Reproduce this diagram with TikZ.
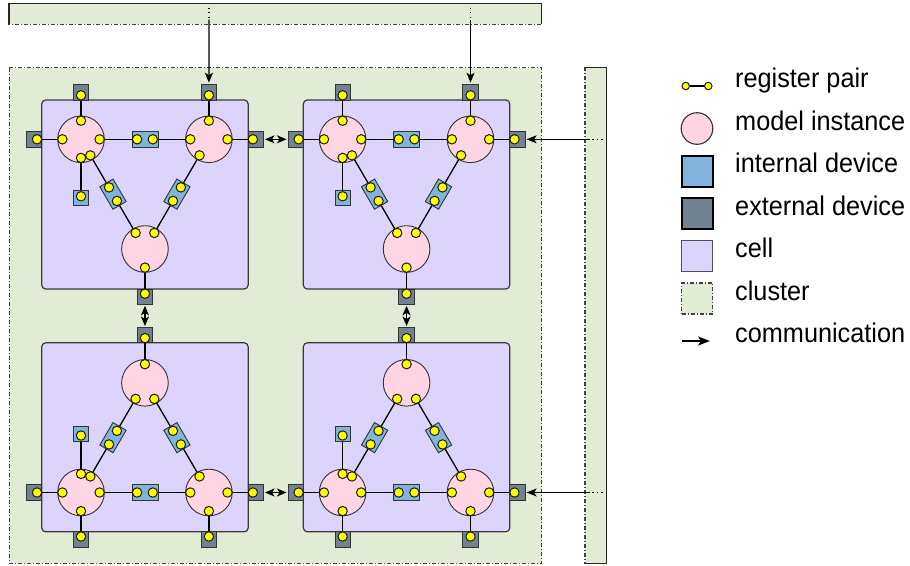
\documentclass[tikz,border=0pt]{standalone}
\usepackage{fontspec}
\setmainfont{Liberation Sans}[FakeStretch=0.936]
\usetikzlibrary{calc,arrows.meta}
\pgfdeclarelayer{clusterlayer}
\pgfdeclarelayer{celllayer}
\pgfdeclarelayer{linelayer}
\pgfsetlayers{clusterlayer,celllayer,linelayer,main}
\definecolor{clusterc}{HTML}{E2EBD5}
\definecolor{clusterb}{HTML}{404040}
\definecolor{cellc}{HTML}{DCD4FD}
\definecolor{cellb}{HTML}{3A3A3A}
\definecolor{instc}{HTML}{FFD5E3}
\definecolor{instb}{HTML}{333333}
\definecolor{dotc}{HTML}{FFFF00}
\definecolor{dotb}{HTML}{1A1A1A}
\definecolor{intc}{HTML}{82B3DA}
\definecolor{extc}{HTML}{738290}
\definecolor{devb}{HTML}{333333}
\definecolor{legcellb}{HTML}{505060}
\tikzset{
 clusterbox/.style={fill=clusterc, draw=clusterb, line width=1.2pt, dash pattern=on 4pt off 2pt on 1pt off 2pt},
 bandedge/.style={draw=black!85, line width=1.1pt},
 cellbox/.style={rectangle, fill=cellc, draw=cellb, line width=1.2pt, rounded corners=4pt, minimum width=206.5pt, minimum height=189pt, inner sep=0pt, outer sep=0pt},
 inst/.style={circle, fill=instc, draw=instb, line width=0.9pt, minimum size=46.6pt, inner sep=0pt, outer sep=0pt},
 regdot/.style={circle, fill=dotc, draw=dotb, line width=1pt, minimum size=9.4pt, inner sep=0pt, outer sep=0pt},
 extdev/.style={rectangle, fill=extc, draw=devb, line width=0.9pt, minimum size=15.3pt, inner sep=0pt, outer sep=0pt},
 intdev/.style={rectangle, fill=intc, draw=devb, line width=0.9pt, minimum size=15.3pt, inner sep=0pt, outer sep=0pt},
 intpair/.style={intdev, minimum width=26pt, minimum height=15.3pt},
 link/.style={draw=black, line width=1.3pt},
 comm/.style={draw=black, line width=1.3pt, -{Stealth[length=10pt,width=8pt,inset=2.5pt]}},
 bigcomm/.style={draw=black, line width=1.5pt, -{Stealth[length=12pt,width=9pt,inset=3pt]}},
 bicomm/.style={draw=black, line width=1.3pt, {Stealth[length=9.5pt,width=8pt,inset=2.5pt]}-{Stealth[length=9.5pt,width=8pt,inset=2.5pt]}},
 bandlink/.style={draw=black, line width=1.3pt, dash pattern=on 1.3pt off 3.2pt},
 legtext/.style={anchor=mid west, font=\fontsize{27}{30}\selectfont, inner sep=0pt},
}
\newcommand\mkcell[4]{%
 \begin{pgfonlayer}{celllayer}
  \node[cellbox] (#1cell) at ({#2+103.25},{#3+(#4)*94.5}) {};
 \end{pgfonlayer}
 \node[inst] (#1A) at ({#2+39.3},{#3+(#4)*39.3}) {};
 \node[inst] (#1B) at ({#2+167.2},{#3+(#4)*39.3}) {};
 \node[inst] (#1C) at ({#2+103.25},{#3+(#4)*149}) {};
 \coordinate (#1pAt) at ($(#1A.center)+(0,{-(#4)*18.6})$);
 \coordinate (#1pAl) at ($(#1A.center)+(-18.6,0)$);
 \coordinate (#1pAr) at ($(#1A.center)+(18.6,0)$);
 \coordinate (#1pAb) at ($(#1A.center)+(0,{(#4)*18.6})$);
 \coordinate (#1pAC) at ($(#1A.center)!18.6pt!(#1C.center)$);
 \coordinate (#1pBt) at ($(#1B.center)+(0,{-(#4)*18.6})$);
 \coordinate (#1pBl) at ($(#1B.center)+(-18.6,0)$);
 \coordinate (#1pBr) at ($(#1B.center)+(18.6,0)$);
 \coordinate (#1pBC) at ($(#1B.center)!18.6pt!(#1C.center)$);
 \coordinate (#1pCA) at ($(#1C.center)!18.6pt!(#1A.center)$);
 \coordinate (#1pCB) at ($(#1C.center)!18.6pt!(#1B.center)$);
 \coordinate (#1pCb) at ($(#1C.center)+(0,{(#4)*18.6})$);
 \node[extdev] (#1xAt) at ({#2+39.3},{#3-(#4)*7.65}) {};
 \node[extdev] (#1xBt) at ({#2+167.2},{#3-(#4)*7.65}) {};
 \node[extdev] (#1xAl) at ({#2-7.65},{#3+(#4)*39.3}) {};
 \node[extdev] (#1xBr) at ({#2+214.15},{#3+(#4)*39.3}) {};
 \node[extdev] (#1xCb) at ({#2+103.25},{#3+(#4)*196.65}) {};
 \node[intdev] (#1iA) at ({#2+39.3},{#3+(#4)*97.8}) {};
 \node[intpair] (#1iH) at ({#2+103.25},{#3+(#4)*39.3}) {};
 \path (#1pAC) -- node[intpair,sloped] (#1iAC) {} (#1pCA);
 \path (#1pBC) -- node[intpair,sloped] (#1iBC) {} (#1pCB);
 \foreach \p in {pAt,pAl,pAr,pAb,pAC,pBt,pBl,pBr,pBC,pCA,pCB,pCb} {\node[regdot] (#1d\p) at (#1\p) {};}
 \node[regdot] (#1dxAt) at ({#2+39.3},{#3-(#4)*4.7}) {};
 \node[regdot] (#1dxBt) at ({#2+167.2},{#3-(#4)*4.7}) {};
 \node[regdot] (#1dxAl) at ({#2-4.7},{#3+(#4)*39.3}) {};
 \node[regdot] (#1dxBr) at ({#2+211.2},{#3+(#4)*39.3}) {};
 \node[regdot] (#1dxCb) at ({#2+103.25},{#3+(#4)*193.7}) {};
 \node[regdot] (#1diA) at ({#2+39.3},{#3+(#4)*96.3}) {};
 \node[regdot] (#1diH1) at ($(#1iH.center)+(-7.85,0)$) {};
 \node[regdot] (#1diH2) at ($(#1iH.center)+(7.85,0)$) {};
 \node[regdot] (#1diAC1) at ($(#1iAC.center)!7.85pt!(#1pAC)$) {};
 \node[regdot] (#1diAC2) at ($(#1iAC.center)!7.85pt!(#1pCA)$) {};
 \node[regdot] (#1diBC1) at ($(#1iBC.center)!7.85pt!(#1pBC)$) {};
 \node[regdot] (#1diBC2) at ($(#1iBC.center)!7.85pt!(#1pCB)$) {};
 \begin{pgfonlayer}{linelayer}
  \draw[link] (#1dpAt.center) -- (#1dxAt.center);
  \draw[link] (#1dpAl.center) -- (#1dxAl.center);
  \draw[link] (#1dpAr.center) -- (#1diH1.center);
  \draw[link] (#1diH2.center) -- (#1dpBl.center);
  \draw[link] (#1dpAb.center) -- (#1diA.center);
  \draw[link] (#1dpAC.center) -- (#1dpCA.center);
  \draw[link] (#1dpBt.center) -- (#1dxBt.center);
  \draw[link] (#1dpBr.center) -- (#1dxBr.center);
  \draw[link] (#1dpBC.center) -- (#1dpCB.center);
  \draw[link] (#1dpCb.center) -- (#1dxCb.center);
 \end{pgfonlayer}
}
\begin{document}
\begin{tikzpicture}[x=1pt,y=-1pt]
\useasboundingbox (0,0) rectangle (910,565);
% clusters
\begin{pgfonlayer}{clusterlayer}
 \draw[clusterbox] (9,3.3) rectangle (541.5,24.3);
 \draw[bandedge] (9,24.3) -- (9,3.3) -- (541.5,3.3) -- (541.5,24.3);
 \draw[clusterbox] (9.3,67.8) rectangle (541.7,563.3);
 \draw[clusterbox] (585,67.3) rectangle (606.7,563.3);
 \draw[bandedge] (585,67.3) -- (606.7,67.3) -- (606.7,563.3) -- (585,563.3);
\end{pgfonlayer}
% cells
\mkcell{TL}{41.7}{100}{1}
\mkcell{TR}{303.3}{100}{1}
\mkcell{BL}{41.7}{531.8}{-1}
\mkcell{BR}{303.3}{531.8}{-1}
% communication between cells
\draw[bicomm, shorten <=1.5pt, shorten >=1.5pt] (TLxBr) -- (TRxAl);
\draw[bicomm, shorten <=1.5pt, shorten >=1.5pt] (BLxBr) -- (BRxAl);
\draw[bicomm, shorten <=1.5pt, shorten >=1.5pt] (TLxCb) -- (BLxCb);
\draw[bicomm, shorten <=1.5pt, shorten >=1.5pt] (TRxCb) -- (BRxCb);
% communication from neighbouring clusters
\coordinate (tb1a) at (209,7.5);
\coordinate (tb1b) at (209,19.5);
\coordinate (tb2a) at (470.5,7.5);
\coordinate (tb2b) at (470.5,19.5);
\coordinate (rb1a) at (602.5,139.3);
\coordinate (rb1b) at (590,139.3);
\coordinate (rb2a) at (602.5,492.5);
\coordinate (rb2b) at (590,492.5);
\draw[bandlink] (tb1a) -- (tb1b);
\draw[bandlink] (tb2a) -- (tb2b);
\draw[bandlink] (rb1a) -- (rb1b);
\draw[bandlink] (rb2a) -- (rb2b);
\draw[comm, shorten >=2pt] (tb1b) -- (TLxBt);
\draw[comm, shorten >=2pt] (tb2b) -- (TRxBt);
\draw[comm, shorten >=1.5pt] (rb1b) -- (TRxBr);
\draw[comm, shorten >=1.5pt] (rb2b) -- (BRxBr);
% legend
\node[regdot, minimum size=7.5pt] (lgd1) at (685.7,86) {};
\node[regdot, minimum size=7.5pt] (lgd2) at (708.3,86) {};
\begin{pgfonlayer}{linelayer}
 \draw[link] (lgd1.center) -- (lgd2.center);
\end{pgfonlayer}
\node[legtext] (lgt1) at (735,85) {register pair};
\node[inst, minimum size=31.6pt, line width=1.1pt] (lgi) at (697,128.5) {};
\node[legtext] (lgt2) at (735,127.5) {model instance};
\node[intdev, minimum size=31pt, draw=black, line width=2pt] (lgid) at (697,171) {};
\node[legtext] (lgt3) at (735,170) {internal device};
\node[extdev, minimum size=31pt, draw=black, line width=2pt] (lgxd) at (697,213.5) {};
\node[legtext] (lgt4) at (735,212.5) {external device};
\node[rectangle, fill=cellc, draw=legcellb, line width=1.2pt, minimum size=31pt] (lgc) at (697,256) {};
\node[legtext] (lgt5) at (735,255) {cell};
\node[clusterbox, rectangle, minimum size=31pt] (lgcl) at (697,298.5) {};
\node[legtext] (lgt6) at (735,297.5) {cluster};
\coordinate (lga1) at (682,341);
\coordinate (lga2) at (710,341);
\draw[bigcomm] (lga1) -- (lga2);
\node[legtext] (lgt7) at (735,340) {communication};
\end{tikzpicture}
\end{document}
